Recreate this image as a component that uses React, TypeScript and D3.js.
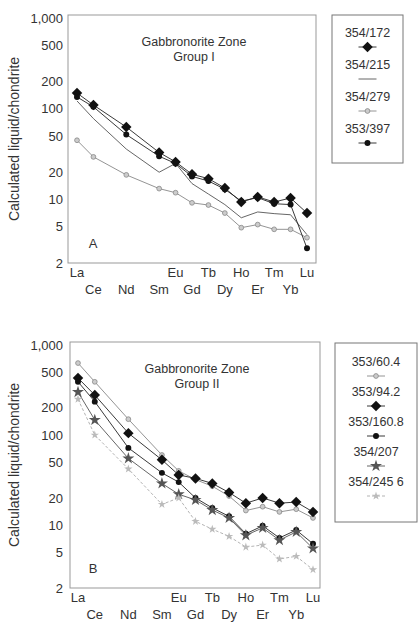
import React from "react";
import * as d3 from "d3";

// REE along the x axis (Pr and Pm are left out but keep their slots)
const ELEMENTS = ["La", "Ce", "Nd", "Sm", "Eu", "Gd", "Tb", "Dy", "Ho", "Er", "Tm", "Yb", "Lu"];
const ATOMIC = [57, 58, 60, 62, 63, 64, 65, 66, 67, 68, 69, 70, 71];
const LABEL_ROW = [0, 1, 1, 1, 0, 1, 0, 1, 0, 1, 0, 1, 0];
const Y_TICKS = [1000, 500, 200, 100, 50, 20, 10, 5, 2];

// Group I
const A_354_172 = [149, 110, 63, 33, 26, 19, 17, 13.4, 9.4, 10.7, 9.4, 10.4, 7.1];
const A_354_215 = [122, 78, 36, 20, 25, 15, 11.5, 8.8, 6.3, 7.3, 7, 6.8, 4.1];
const A_354_279 = [45, 29.5, 18.7, 13.2, 11.9, 9.2, 8.7, 7.1, 4.9, 5.3, 4.7, 4.7, 3.8];
const A_353_397 = [135, 105, 52, 30, 25, 18, 16, 13, 9.6, 10.5, 9, 8.8, 2.9];

// Group II
const B_353_60_4 = [630, 390, 150, 60, 40, 32, 27, 21, 14.5, 16, 14, 15, 12];
const B_353_94_2 = [430, 278, 105, 53, 36, 33, 29, 23, 17.5, 20, 17.5, 18, 14];
const B_353_160_8 = [390, 235, 72, 38, 30, 20, 15.5, 12.5, 8, 9.8, 7.2, 8.8, 6.2];
const B_354_207 = [300, 147, 55, 29, 22, 19, 14.7, 12, 7.7, 9.3, 6.8, 8.4, 5.5];
const B_354_245_6 = [250, 100, 42, 17, 20, 11, 9, 7.5, 5.7, 6, 4.2, 4.5, 3.2];

const FONT = "'Liberation Sans', Arial, sans-serif";
const INK = "#333";

type Style = {
  stroke: string;
  dash?: string;
  marker?: "diamond" | "circle" | "star" | "small";
  fill?: string;
  mStroke?: string;
  size?: number;
};

const STYLES: Record<string, Style> = {
  diamond: { stroke: "#222", marker: "diamond", fill: "#111", size: 55 },
  dot: { stroke: "#222", marker: "circle", fill: "#111", size: 28 },
  plain: { stroke: "#555" },
  grayOpen: { stroke: "#888", marker: "small", fill: "#ccc", mStroke: "#888", size: 18 },
  star: { stroke: "#555", marker: "star", fill: "#555", size: 45 },
  lightDash: { stroke: "#aaa", dash: "3,2", marker: "star", fill: "#bbb", size: 22 },
};

const seriesA = [
  { name: "354/172", values: A_354_172, style: STYLES.diamond },
  { name: "354/215", values: A_354_215, style: STYLES.plain },
  { name: "354/279", values: A_354_279, style: STYLES.grayOpen },
  { name: "353/397", values: A_353_397, style: STYLES.dot },
];

const seriesB = [
  { name: "353/60.4", values: B_353_60_4, style: STYLES.grayOpen },
  { name: "353/94.2", values: B_353_94_2, style: STYLES.diamond },
  { name: "353/160.8", values: B_353_160_8, style: STYLES.dot },
  { name: "354/207", values: B_354_207, style: STYLES.star },
  { name: "354/245 6", values: B_354_245_6, style: STYLES.lightDash },
];

function markerPath(s: Style) {
  const t =
    s.marker === "diamond" ? d3.symbolSquare : s.marker === "star" ? d3.symbolStar : d3.symbolCircle;
  return d3.symbol().type(t).size(s.size || 20)() as string;
}

function Marker({ x, y, s }: { x: number; y: number; s: Style }) {
  if (!s.marker) return null;
  const rot = s.marker === "diamond" ? " rotate(45)" : "";
  return (
    <path
      d={markerPath(s)}
      transform={"translate(" + x + "," + y + ")" + rot}
      fill={s.fill}
      stroke={s.mStroke || "none"}
      strokeWidth={0.8}
    />
  );
}

function Panel(props: any) {
  const { series, frame, xr, yr, title2, titleX, letter, legend } = props;
  const x = d3.scaleLinear().domain([57, 71]).range(xr);
  const y = d3.scaleLog().domain([2, 1000]).range(yr);
  const line = d3
    .line<number>()
    .x((d, i) => x(ATOMIC[i]))
    .y((d) => y(d));
  const fmt = d3.format(",");

  return (
    <g>
      <rect
        x={frame.l}
        y={frame.t}
        width={frame.r - frame.l}
        height={frame.b - frame.t}
        fill="none"
        stroke="#999"
        strokeWidth={1}
      />
      {Y_TICKS.map((t) => (
        <text key={t} x={63} y={y(t)} dy="0.35em" textAnchor="end" fontSize={13} fill={INK}>
          {fmt(t)}
        </text>
      ))}
      <text
        transform={"translate(19," + (frame.t + frame.b) / 2 + ") rotate(-90)"}
        textAnchor="middle"
        fontSize={14}
        fill={INK}
      >
        Calculated liquid/chondrite
      </text>
      {ELEMENTS.map((e, i) => (
        <text
          key={e}
          x={x(ATOMIC[i])}
          y={frame.b + (LABEL_ROW[i] ? 31 : 14)}
          textAnchor="middle"
          fontSize={13}
          fill={INK}
        >
          {e}
        </text>
      ))}
      <text x={titleX} y={frame.t + 31} textAnchor="middle" fontSize={12.5} fill={INK}>
        Gabbronorite Zone
      </text>
      <text x={titleX} y={frame.t + 46} textAnchor="middle" fontSize={12.5} fill={INK}>
        {title2}
      </text>
      <text x={93} y={y(3.3)} dy="0.35em" textAnchor="middle" fontSize={13} fill={INK}>
        {letter}
      </text>
      {series.map((s: any) => (
        <g key={s.name}>
          <path
            d={line(s.values) as string}
            fill="none"
            stroke={s.style.stroke}
            strokeWidth={0.9}
            strokeDasharray={s.style.dash}
          />
          {s.values.map((v: number, i: number) => (
            <Marker key={i} x={x(ATOMIC[i])} y={y(v)} s={s.style} />
          ))}
        </g>
      ))}
      <rect
        x={legend.l}
        y={legend.t}
        width={legend.r - legend.l}
        height={legend.b - legend.t}
        fill="none"
        stroke="#777"
        strokeWidth={1}
      />
      {series.map((s: any, i: number) => {
        const cx = (legend.l + legend.r) / 2;
        const ty = legend.t + legend.first + i * legend.step;
        return (
          <g key={s.name}>
            <text x={cx} y={ty} dy="0.35em" textAnchor="middle" fontSize={12.5} fill={INK}>
              {s.name}
            </text>
            <line
              x1={cx - 9}
              x2={cx + 9}
              y1={ty + 14}
              y2={ty + 14}
              stroke={s.style.stroke}
              strokeWidth={0.9}
              strokeDasharray={s.style.dash}
            />
            <Marker x={cx} y={ty + 14} s={s.style} />
          </g>
        );
      })}
    </g>
  );
}

export default function App() {
  return (
    <div style={{ position: "absolute", left: 0, top: 0 }}>
      <svg width={418} height={623} style={{ display: "block", fontFamily: FONT, background: "#fff" }}>
        <Panel
          series={seriesA}
          frame={{ l: 68, t: 15, r: 316, b: 263 }}
          xr={[77, 307]}
          yr={[263, 18]}
          title2="Group I"
          titleX={194}
          letter="A"
          legend={{ l: 332, t: 15, r: 403, b: 163, first: 18, step: 32 }}
        />
        <Panel
          series={seriesB}
          frame={{ l: 70, t: 342, r: 320, b: 588 }}
          xr={[78, 313]}
          yr={[588, 345]}
          title2="Group II"
          titleX={197}
          letter="B"
          legend={{ l: 335, t: 343, r: 417, b: 522, first: 19, step: 30 }}
        />
      </svg>
    </div>
  );
}
